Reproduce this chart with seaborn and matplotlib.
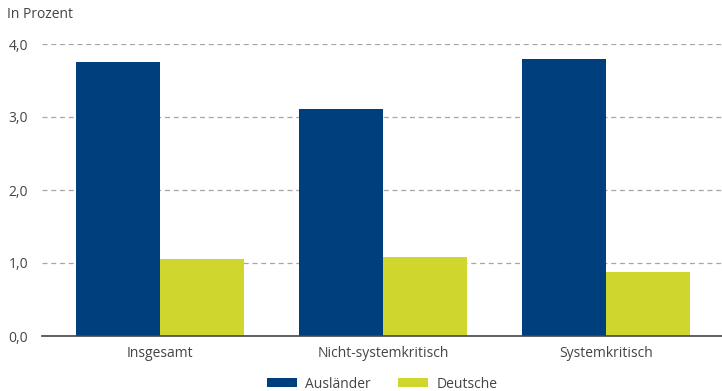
import matplotlib
matplotlib.use("Agg")
import matplotlib.pyplot as plt
import seaborn as sns
import pandas as pd
from matplotlib.patches import Patch

categories = ["Insgesamt", "Nicht-systemkritisch", "Systemkritisch"]
series = ["Ausländer", "Deutsche"]
auslaender = [3.75, 3.11, 3.79]
deutsche = [1.05, 1.08, 0.88]
yticks = [0.0, 1.0, 2.0, 3.0, 4.0]
colors = ["#003f7d", "#cfd72e"]

df = pd.DataFrame({
    "Kategorie": categories * 2,
    "Gruppe": [series[0]] * 3 + [series[1]] * 3,
    "Wert": auslaender + deutsche,
})

sns.set_theme(style="white")
plt.rcParams["font.family"] = ["Open Sans", "DejaVu Sans"]
text_color = "#444444"
fs = 10

fig = plt.figure(figsize=(7.22, 3.91), dpi=100)
ax = fig.add_axes([42 / 722, 55 / 391, 680 / 722, 292 / 391])

sns.barplot(data=df, x="Kategorie", y="Wert", hue="Gruppe", order=categories,
            hue_order=series, palette=colors, width=0.753, gap=0,
            saturation=1, ax=ax, legend=False, errorbar=None)
for p in ax.patches:
    p.set_linewidth(0)

ax.set_xlim(-0.529, 2.52)
ax.set_ylim(0, 4.0)
ax.set_yticks(yticks)
ax.set_yticklabels([f"{v:.1f}".replace(".", ",") for v in yticks])
ax.yaxis.grid(True, linestyle=(0, (4, 3)), color="#a6a6a6", linewidth=0.9)
ax.set_axisbelow(True)
for s in ["top", "right", "left"]:
    ax.spines[s].set_visible(False)
ax.spines["bottom"].set_color("#444444")
ax.spines["bottom"].set_linewidth(1.2)
ax.tick_params(axis="both", length=0, labelsize=fs, colors=text_color, pad=7)
ax.tick_params(axis="y", pad=10)
ax.set_xlabel("")
ax.set_ylabel("")

fig.text(7 / 722, 1 - 15 / 391, "In Prozent", fontsize=fs, color=text_color, va="center")

handles = [Patch(facecolor=c, edgecolor="none", label=l) for c, l in zip(colors, series)]
fig.legend(handles=handles, loc="center", bbox_to_anchor=(382 / 722, 1 - 384 / 391),
           ncol=2, frameon=False, fontsize=fs, handlelength=2.2, handleheight=0.6,
           columnspacing=1.9, handletextpad=0.6, labelcolor=text_color)

fig.savefig("out.png", dpi=100)
